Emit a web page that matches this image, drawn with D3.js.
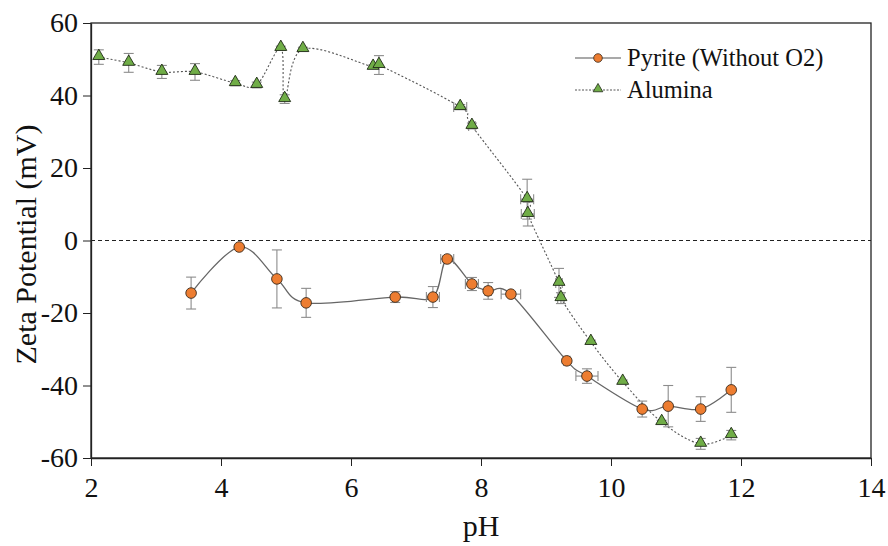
<!DOCTYPE html>
<html>
<head>
<meta charset="utf-8">
<script src="https://cdn.jsdelivr.net/npm/d3@7"></script>
<style>
  html, body { margin: 0; padding: 0; background: #fff; }
  svg { display: block; }
  svg text { font-family: "Liberation Serif", "DejaVu Serif", "Times New Roman", serif; }
</style>
</head>
<body>
<svg id="chart" width="888" height="546"></svg>
<script>
// Pyrite (without O2): pH, zeta potential (mV), error in zeta, error in pH
const pyritePH   = [3.54, 4.28, 4.86, 5.31, 6.68, 7.26, 7.48, 7.86, 8.11, 8.46, 9.32, 9.63, 10.48, 10.88, 11.38, 11.85];
const pyriteZeta = [-14.5, -1.8, -10.6, -17.2, -15.6, -15.6, -5.1, -12.0, -13.9, -14.8, -33.2, -37.4, -46.5, -45.7, -46.5, -41.2];
const pyriteErrY = [4.4, 0.3, 8.0, 4.0, 1.5, 2.9, 0.8, 1.8, 2.3, 0.6, 0.6, 2.0, 2.2, 5.7, 3.4, 6.2];
const pyriteErrX = [0, 0, 0, 0, 0, 0.1, 0.1, 0.1, 0.05, 0.15, 0.05, 0.17, 0, 0, 0, 0];

// Alumina: pH, zeta potential (mV), error in zeta, error in pH
const aluminaPH   = [2.12, 2.58, 3.09, 3.60, 4.22, 4.55, 4.92, 4.98, 5.26, 6.34, 6.43, 7.68, 7.86, 8.71, 8.72, 9.20, 9.23, 9.69, 10.18, 10.78, 11.38, 11.85];
const aluminaZeta = [50.6, 49.0, 46.5, 46.5, 43.4, 42.9, 53.1, 39.0, 52.8, 47.9, 48.4, 36.8, 31.6, 11.4, 7.3, -11.7, -15.9, -28.0, -39.0, -50.1, -56.1, -53.7];
const aluminaErrY = [2.0, 2.6, 1.8, 2.3, 0.7, 0.8, 0.5, 1.2, 0.5, 0.5, 2.6, 0.7, 0.8, 5.5, 3.3, 4.0, 1.5, 0.5, 0.5, 0.5, 1.5, 1.3];
const aluminaErrX = [0, 0, 0, 0, 0, 0, 0, 0, 0, 0, 0, 0.1, 0.05, 0.1, 0.1, 0.05, 0.05, 0, 0, 0, 0, 0];

const xTicks = [2, 4, 6, 8, 10, 12, 14];
const yTicks = [-60, -40, -20, 0, 20, 40, 60];
const seriesNames = ["Pyrite (Without O2)", "Alumina"];
const xTitle = "pH";
const yTitle = "Zeta Potential (mV)";

const FONT = "'Liberation Serif', 'DejaVu Serif', 'Times New Roman', serif";

const svg = d3.select("#chart");
const margin = { left: 91, right: 17, top: 23, bottom: 88 };
const W = 888, H = 546;

const x = d3.scaleLinear().domain([2, 14]).range([margin.left, W - margin.right]);
const y = d3.scaleLinear().domain([-60, 60]).range([H - margin.bottom, margin.top]);

const ORANGE = "#ED7D31", GREEN = "#70AD47", ERR = "#8c8c8c";

// frame
svg.append("rect")
  .attr("x", x(2)).attr("y", y(60))
  .attr("width", x(14) - x(2)).attr("height", y(-60) - y(60))
  .attr("fill", "none").attr("stroke", "#222").attr("stroke-width", 1.3);

// zero reference line
svg.append("line")
  .attr("x1", x(2)).attr("x2", x(14)).attr("y1", y(0)).attr("y2", y(0))
  .attr("stroke", "#222").attr("stroke-width", 1).attr("stroke-dasharray", "4,3");

// axes (plain hyphen for negative labels)
const plain = d => String(d);
const xAxis = d3.axisBottom(x).tickValues(xTicks).tickSize(8).tickPadding(6).tickSizeOuter(0).tickFormat(plain);
const yAxis = d3.axisLeft(y).tickValues(yTicks).tickSize(8).tickPadding(5).tickSizeOuter(0).tickFormat(plain);

const gx = svg.append("g").attr("transform", `translate(0,${y(-60)})`).call(xAxis);
const gy = svg.append("g").attr("transform", `translate(${x(2)},0)`).call(yAxis);
[gx, gy].forEach(g => {
  g.attr("font-family", FONT).attr("font-size", 28);
  g.select(".domain").attr("stroke", "#222").attr("stroke-width", 1.3);
  g.selectAll(".tick line").attr("stroke", "#222").attr("stroke-width", 1);
  g.selectAll(".tick text").attr("fill", "#111").attr("font-family", FONT).attr("font-size", 28);
});
gx.selectAll(".tick text").attr("dy", "0.9em");

// axis titles
svg.append("text")
  .attr("x", (x(2) + x(14)) / 2).attr("y", 536)
  .attr("text-anchor", "middle").attr("font-family", FONT).attr("font-size", 30).attr("fill", "#111")
  .text(xTitle);
svg.append("text")
  .attr("transform", `translate(36,${(y(60) + y(-60)) / 2 + 4}) rotate(-90)`)
  .attr("text-anchor", "middle").attr("font-family", FONT).attr("font-size", 30).attr("fill", "#111")
  .text(yTitle);

function toRows(px, zs, ey, ex) {
  return px.map((p, i) => ({ x: p, y: zs[i], ey: ey[i], ex: ex[i] }));
}
const pyrite = toRows(pyritePH, pyriteZeta, pyriteErrY, pyriteErrX);
const alumina = toRows(aluminaPH, aluminaZeta, aluminaErrY, aluminaErrX);

const line = d3.line().x(d => x(d.x)).y(d => y(d.y)).curve(d3.curveCatmullRom.alpha(0));

// connecting curves
svg.append("path").datum(alumina).attr("d", line)
  .attr("fill", "none").attr("stroke", "#555").attr("stroke-width", 1.1).attr("stroke-dasharray", "2,2");
svg.append("path").datum(pyrite).attr("d", line)
  .attr("fill", "none").attr("stroke", "#666").attr("stroke-width", 1.3);

// error bars
function errorBars(data) {
  const g = svg.append("g").attr("stroke", ERR).attr("stroke-width", 1.1).attr("fill", "none");
  const cap = 5;
  data.forEach(d => {
    if (d.ey > 0) {
      const y1 = y(d.y + d.ey), y2 = y(d.y - d.ey), cx = x(d.x);
      g.append("line").attr("x1", cx).attr("x2", cx).attr("y1", y1).attr("y2", y2);
      g.append("line").attr("x1", cx - cap).attr("x2", cx + cap).attr("y1", y1).attr("y2", y1);
      g.append("line").attr("x1", cx - cap).attr("x2", cx + cap).attr("y1", y2).attr("y2", y2);
    }
    if (d.ex > 0) {
      const x1 = x(d.x - d.ex), x2 = x(d.x + d.ex), cy = y(d.y);
      g.append("line").attr("x1", x1).attr("x2", x2).attr("y1", cy).attr("y2", cy);
      g.append("line").attr("x1", x1).attr("x2", x1).attr("y1", cy - cap).attr("y2", cy + cap);
      g.append("line").attr("x1", x2).attr("x2", x2).attr("y1", cy - cap).attr("y2", cy + cap);
    }
  });
}
errorBars(alumina);
errorBars(pyrite);

// markers
const tri = d3.symbol().type(d3.symbolTriangle).size(62);
svg.append("g").selectAll("path").data(alumina).join("path")
  .attr("d", tri)
  .attr("transform", d => `translate(${x(d.x)},${y(d.y) - 1})`)
  .attr("fill", GREEN).attr("stroke", "#1f2a16").attr("stroke-width", 0.9);

svg.append("g").selectAll("circle").data(pyrite).join("circle")
  .attr("cx", d => x(d.x)).attr("cy", d => y(d.y)).attr("r", 5.3)
  .attr("fill", ORANGE).attr("stroke", "#3a2a1c").attr("stroke-width", 0.9);

// legend
const lg = svg.append("g");
const lx0 = 575, lx1 = 621, ly = [58, 90];
lg.append("line").attr("x1", lx0).attr("x2", lx1).attr("y1", ly[0]).attr("y2", ly[0])
  .attr("stroke", "#555").attr("stroke-width", 1.2);
lg.append("circle").attr("cx", (lx0 + lx1) / 2).attr("cy", ly[0]).attr("r", 4.3)
  .attr("fill", ORANGE).attr("stroke", "#3a2a1c").attr("stroke-width", 0.8);
lg.append("line").attr("x1", lx0).attr("x2", lx1).attr("y1", ly[1]).attr("y2", ly[1])
  .attr("stroke", "#555").attr("stroke-width", 1).attr("stroke-dasharray", "2,1.5");
lg.append("path").attr("d", d3.symbol().type(d3.symbolTriangle).size(40))
  .attr("transform", `translate(${(lx0 + lx1) / 2},${ly[1] - 1})`)
  .attr("fill", GREEN).attr("stroke", "#1f2a16").attr("stroke-width", 0.8);
seriesNames.forEach((name, i) => {
  lg.append("text").attr("x", 627).attr("y", ly[i] + 8)
    .attr("font-family", FONT).attr("font-size", 24.5).attr("fill", "#111").text(name);
});
</script>
</body>
</html>
